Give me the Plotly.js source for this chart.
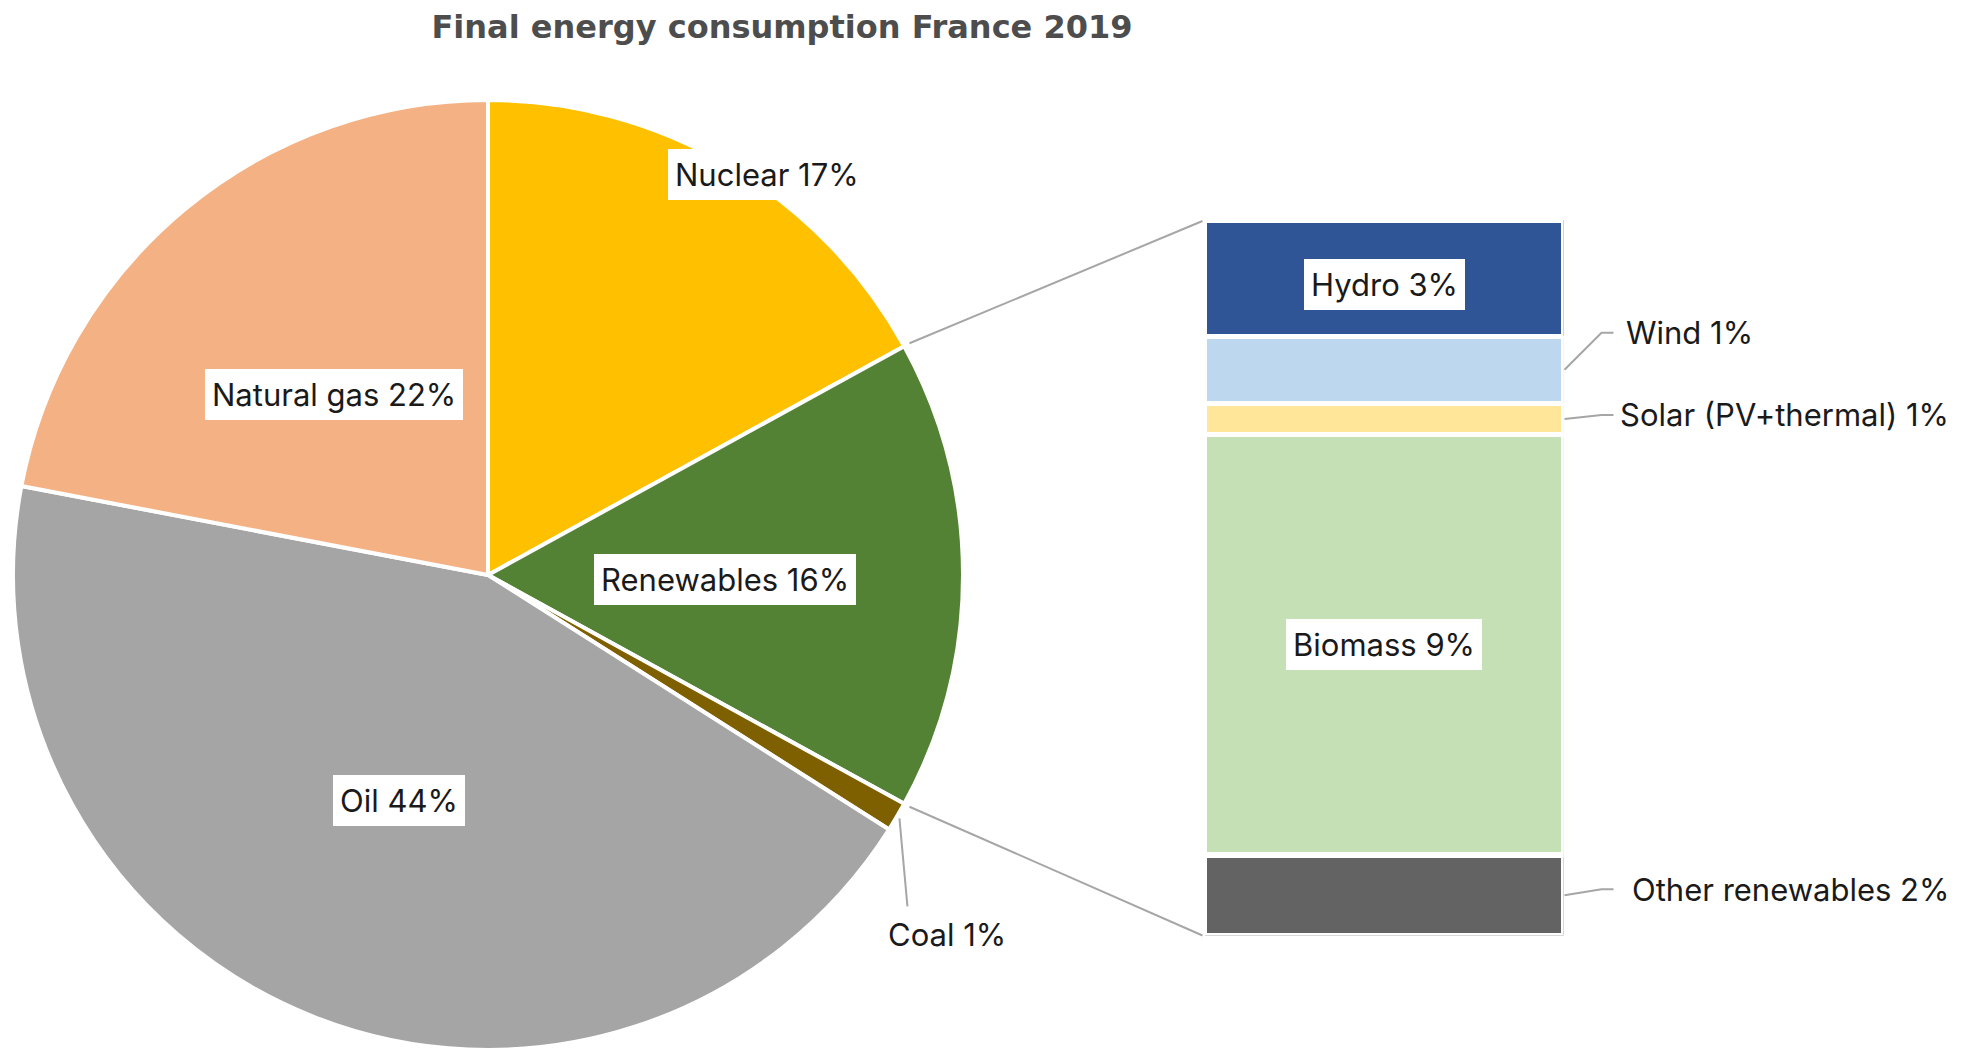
<!DOCTYPE html>
<html>
<head>
<meta charset="utf-8">
<script src="https://cdn.plot.ly/plotly-3.0.1.min.js"></script>
<style>html,body{margin:0;padding:0;background:#fff;} #chart{width:1961px;height:1051px;}</style>
</head>
<body>
<div id="chart"></div>
<script>
// ---------------- DATA ----------------
const titleText = 'Final energy consumption France 2019';

const sources = ['Nuclear', 'Renewables', 'Coal', 'Oil', 'Natural gas'];
const sourceShares = [17, 16, 1, 44, 22];
const sourceLabels = ['Nuclear 17%', 'Renewables 16%', 'Coal 1%', 'Oil 44%', 'Natural gas 22%'];

// renewables breakdown, listed from top of the column to bottom
const renewables = ['Hydro', 'Wind', 'Solar (PV+thermal)', 'Biomass', 'Other renewables'];
const renewableShares = [2.6, 1.5, 0.7, 9.4, 1.8];
const renewableLabels = ['Hydro 3%', 'Wind 1%', 'Solar (PV+thermal) 1%', 'Biomass 9%', 'Other renewables 2%'];

// ---------------- STYLE ----------------
const W = 1961, H = 1051;
const FONT = 'Inter, "Noto Sans", sans-serif';
const TITLE_FONT = '"DejaVu Sans", Inter, sans-serif';
const LABEL_SIZE = 31;
const TXT = '#1a1a1a';
const LEADER = '#a6a6a6';

const sourceColors = ['#FFC000', '#548235', '#7F6000', '#A5A5A5', '#F4B183'];
const renewableColors = ['#2F5597', '#BDD7EE', '#FFE699', '#C5E0B4', '#636363'];

// pie geometry (pixels)
const pieCx = 488, pieCy = 575, pieR = 475, pieLine = 4;
// label placement on the pie: radius fraction and angle shift (deg)
const pieLabelR = [1.028, 0.5, null, 0.51, 0.5];
const pieLabelDA = [4.2, 1.2, 0, 0, -0.8];

// column geometry (pixels)
const barX0 = 1204.5, barX1 = 1563.5, barTop = 220, barBot = 935.5, barLine = 5.5;
const insideLabel = [true, false, false, true, false];
const insideShift = [-6, 0, 0, 0, 0];
const outsideDy = [0, -37, -4, 0, -6];
const outsideDx = [0, 60, 54, 0, 66];

// ---------------- HELPERS ----------------
const px2x = p => p / W;
const px2y = p => 1 - p / H;
const deg = Math.PI / 180;
const piePoint = (angDeg, r) => [pieCx + r * Math.sin(angDeg * deg), pieCy - r * Math.cos(angDeg * deg)];

const totalSrc = sourceShares.reduce((a, b) => a + b, 0);
const cumStart = [];
{ let c = 0; sourceShares.forEach(v => { cumStart.push(c); c += v; }); }
const angStart = cumStart.map(c => c / totalSrc * 360);
const angEnd = sourceShares.map((v, i) => angStart[i] + v / totalSrc * 360);
const angMid = angStart.map((a, i) => (a + angEnd[i]) / 2);

const totalRen = renewableShares.reduce((a, b) => a + b, 0);
const yPix = v => barBot - v / totalRen * (barBot - barTop);

// ---------------- TRACES ----------------
const traces = [];
traces.push({
  type: 'pie',
  labels: sources,
  values: sourceShares,
  sort: false,
  direction: 'clockwise',
  rotation: 0,
  textinfo: 'none',
  hoverinfo: 'label+percent',
  marker: { colors: sourceColors, line: { color: '#ffffff', width: pieLine } },
  domain: { x: [px2x(pieCx - pieR), px2x(pieCx + pieR)], y: [px2y(pieCy + pieR), px2y(pieCy - pieR)] },
  showlegend: false
});

// stacked column: bottom segment first
for (let i = renewables.length - 1; i >= 0; i--) {
  traces.push({
    type: 'bar',
    x: [0],
    y: [renewableShares[i]],
    name: renewables[i],
    width: 1,
    xaxis: 'x', yaxis: 'y',
    marker: { color: renewableColors[i], line: { color: '#ffffff', width: barLine } },
    hoverinfo: 'name+y',
    showlegend: false
  });
}

// ---------------- ANNOTATIONS & SHAPES ----------------
const annotations = [];
const shapes = [];

sourceLabels.forEach((lab, i) => {
  if (pieLabelR[i] === null) return;
  const [x, y] = piePoint(angMid[i] + pieLabelDA[i], pieLabelR[i] * pieR);
  annotations.push({
    xref: 'paper', yref: 'paper', x: px2x(x), y: px2y(y),
    text: lab, showarrow: false, xanchor: 'center', yanchor: 'middle',
    bgcolor: '#ffffff', borderpad: 7, borderwidth: 0,
    font: { family: FONT, size: LABEL_SIZE, color: TXT }
  });
});

// coal: outside label with leader line
{
  const i = 2;
  const [sx, sy] = piePoint(angMid[i], pieR + 3);
  shapes.push({ type: 'line', xref: 'paper', yref: 'paper',
    x0: px2x(sx), y0: px2y(sy), x1: px2x(sx + 8), y1: px2y(sy + 88),
    line: { color: LEADER, width: 2 } });
  annotations.push({
    xref: 'paper', yref: 'paper', x: px2x(sx + 48), y: px2y(sy + 116),
    text: sourceLabels[i], showarrow: false, xanchor: 'center', yanchor: 'middle',
    font: { family: FONT, size: LABEL_SIZE, color: TXT }
  });
}

// zoom lines from the renewables wedge to the column
{
  const i = 1;
  const [ax, ay] = piePoint(angStart[i], pieR + 6);
  const [bx, by] = piePoint(angEnd[i], pieR + 6);
  const colLeft = barX0 - 2;
  shapes.push({ type: 'line', xref: 'paper', yref: 'paper',
    x0: px2x(ax), y0: px2y(ay), x1: px2x(colLeft), y1: px2y(barTop + 1),
    line: { color: LEADER, width: 2 } });
  shapes.push({ type: 'line', xref: 'paper', yref: 'paper',
    x0: px2x(bx), y0: px2y(by), x1: px2x(colLeft), y1: px2y(barBot),
    line: { color: LEADER, width: 2 } });
}

// column labels
{
  let cum = 0;
  const mids = new Array(renewables.length);
  for (let i = renewables.length - 1; i >= 0; i--) {
    mids[i] = cum + renewableShares[i] / 2;
    cum += renewableShares[i];
  }
  renewableLabels.forEach((lab, i) => {
    if (insideLabel[i]) {
      annotations.push({
        xref: 'x', yref: 'y', x: 0, y: mids[i], yshift: insideShift[i],
        text: lab, showarrow: false, xanchor: 'center', yanchor: 'middle',
        bgcolor: '#ffffff', borderpad: 7, borderwidth: 0,
        font: { family: FONT, size: LABEL_SIZE, color: TXT }
      });
    } else {
      const cy = yPix(mids[i]);
      const ty = cy + outsideDy[i];
      const sx = barX1 + 1, ex = barX1 + 38, hx = barX1 + 50;
      shapes.push({ type: 'path', xref: 'paper', yref: 'paper',
        path: `M ${px2x(sx)} ${px2y(cy)} L ${px2x(ex)} ${px2y(ty)} L ${px2x(hx)} ${px2y(ty)}`,
        line: { color: LEADER, width: 2 } });
      annotations.push({
        xref: 'paper', yref: 'paper', x: px2x(barX1 + outsideDx[i]), y: px2y(ty),
        text: lab, showarrow: false, xanchor: 'left', yanchor: 'middle',
        font: { family: FONT, size: LABEL_SIZE, color: TXT }
      });
    }
  });
}

// ---------------- LAYOUT ----------------
const layout = {
  width: W, height: H,
  margin: { l: 0, r: 0, t: 0, b: 0, pad: 0 },
  paper_bgcolor: '#ffffff', plot_bgcolor: 'rgba(0,0,0,0)',
  showlegend: false,
  barmode: 'stack',
  title: {
    text: '<b>' + titleText + '</b>',
    xref: 'paper', yref: 'paper', x: 782 / W, y: px2y(27), xanchor: 'center', yanchor: 'middle',
    font: { family: TITLE_FONT, size: 32, color: '#4d4d4d' }
  },
  xaxis: { domain: [px2x(barX0), px2x(barX1)], range: [-0.5, 0.5], visible: false, fixedrange: true },
  yaxis: { domain: [px2y(barBot), px2y(barTop)], range: [0, totalRen], visible: false, fixedrange: true },
  annotations: annotations,
  shapes: shapes
};

Plotly.newPlot('chart', traces, layout, { displayModeBar: false, staticPlot: true });
</script>
</body>
</html>
